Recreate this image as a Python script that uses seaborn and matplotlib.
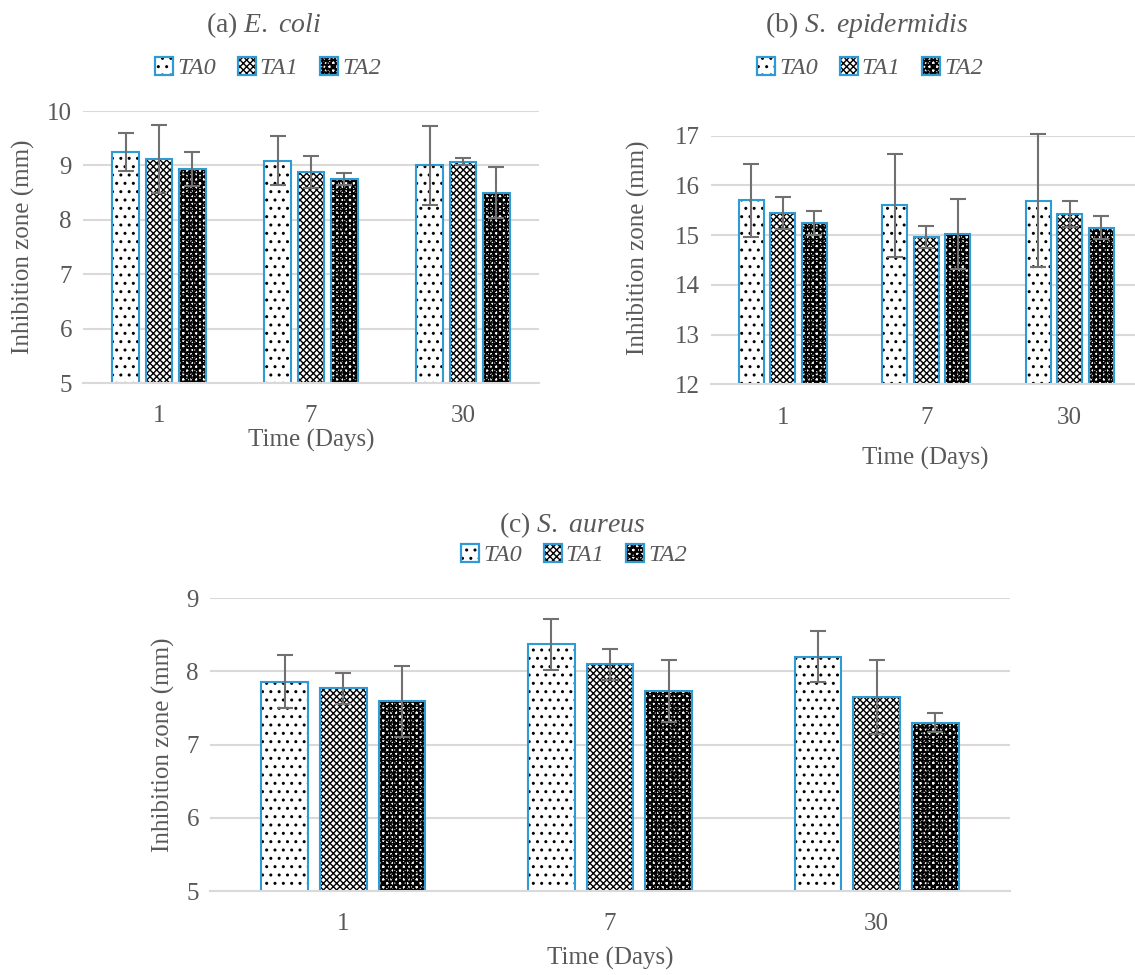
import matplotlib
matplotlib.use('Agg')
import matplotlib.pyplot as plt
from matplotlib.patches import Patch, Rectangle
from matplotlib.legend_handler import HandlerTuple
import seaborn as sns
import pandas as pd
import numpy as np

# ---- data ----
days = ['1', '7', '30']
groups = ['TA0', 'TA1', 'TA2']

ecoli_TA0 = [9.25, 9.09, 9.00]
ecoli_TA1 = [9.12, 8.88, 9.07]
ecoli_TA2 = [8.94, 8.75, 8.50]
ecoli_err_TA0 = [0.35, 0.45, 0.73]
ecoli_err_TA1 = [0.63, 0.30, 0.06]
ecoli_err_TA2 = [0.31, 0.11, 0.47]

sepi_TA0 = [15.70, 15.60, 15.69]
sepi_TA1 = [15.45, 14.97, 15.42]
sepi_TA2 = [15.24, 15.02, 15.15]
sepi_err_TA0 = [0.73, 1.04, 1.34]
sepi_err_TA1 = [0.32, 0.22, 0.26]
sepi_err_TA2 = [0.24, 0.70, 0.23]

saur_TA0 = [7.86, 8.37, 8.20]
saur_TA1 = [7.77, 8.10, 7.65]
saur_TA2 = [7.59, 7.73, 7.30]
saur_err_TA0 = [0.36, 0.35, 0.35]
saur_err_TA1 = [0.21, 0.21, 0.50]
saur_err_TA2 = [0.49, 0.42, 0.13]

# ---- style ----
sns.set_theme(style='white')
plt.rcParams['font.family'] = ['Liberation Serif', 'DejaVu Serif']
plt.rcParams['mathtext.fontset'] = 'custom'
plt.rcParams['mathtext.rm'] = 'Liberation Serif'
plt.rcParams['mathtext.it'] = 'Liberation Serif:italic'
plt.rcParams['hatch.linewidth'] = 1.0

TXT = '#595959'
GRID = '#D9D9D9'
EDGE = '#2E9BD4'
ERR = '#707070'
HATCHES = ['..', 'xxxxx', 'xxxxx++++']


def make_df(v0, v1, v2, e0, e1, e2):
    rows = []
    for g, vals, errs in zip(groups, [v0, v1, v2], [e0, e1, e2]):
        for d, v, e in zip(days, vals, errs):
            rows.append({'day': d, 'group': g, 'value': v, 'err': e})
    return pd.DataFrame(rows)


def draw_panel(ax, df, ylim):
    sns.barplot(data=df, x='day', y='value', hue='group', order=days,
                hue_order=groups, width=0.66, gap=0.2, errorbar=None,
                legend=False, ax=ax)
    for cont, g, h in zip(ax.containers, groups, HATCHES):
        sub = df[df['group'] == g].set_index('day').loc[days]
        for bar, err in zip(cont, sub['err']):
            bar.set_facecolor('white')
            bar.set_edgecolor('black')
            bar.set_linewidth(0)
            bar.set_hatch(h)
            bar.set_zorder(2)
            ax.add_patch(Rectangle((bar.get_x(), bar.get_y()), bar.get_width(),
                                   bar.get_height(), fill=False, edgecolor=EDGE,
                                   linewidth=1.5, zorder=2.5))
            xc = bar.get_x() + bar.get_width() / 2
            ax.errorbar(xc, bar.get_height(), yerr=err, fmt='none', ecolor=ERR,
                        elinewidth=1.5, capsize=5.5, capthick=1.5, zorder=3,
                        clip_on=False)
    ax.set_ylim(*ylim)
    ax.set_xlim(-0.5, 2.5)
    ax.set_axisbelow(True)
    ax.yaxis.grid(True, color=GRID, linewidth=1.5)
    for s in ['top', 'right', 'left']:
        ax.spines[s].set_visible(False)
    ax.spines['bottom'].set_color(GRID)
    ax.spines['bottom'].set_linewidth(1.5)
    ax.tick_params(axis='both', length=0, labelsize=18, colors=TXT)
    ax.tick_params(axis='y', pad=8)
    ax.tick_params(axis='x', pad=16)
    ax.set_xlabel('')
    ax.set_ylabel('')


def add_legend(ax, fig, xy):
    handles = []
    for h in HATCHES:
        handles.append((Patch(facecolor='white', edgecolor='black', linewidth=0, hatch=h),
                        Patch(fill=False, edgecolor=EDGE, linewidth=1.6)))
    ax.legend(handles, groups, handler_map={tuple: HandlerTuple(ndivide=1, pad=0)},
              loc='center', bbox_to_anchor=xy, bbox_transform=fig.transFigure,
              ncol=3, frameon=False, handlelength=0.75, handleheight=0.75,
              handletextpad=0.15, columnspacing=0.9,
              prop={'family': 'Liberation Serif', 'style': 'italic', 'size': 17.5},
              labelcolor=TXT)


W, H = 1135, 975
fig = plt.figure(figsize=(W / 100, H / 100), dpi=100)


def px_axes(x0, y0, x1, y1):
    return fig.add_axes([x0 / W, 1 - y1 / H, (x1 - x0) / W, (y1 - y0) / H])


ax_a = px_axes(83, 111, 539, 383)
ax_b = px_axes(711, 135.7, 1141.5, 384.3)
ax_c = px_axes(210, 598.3, 1010, 891)

draw_panel(ax_a, make_df(ecoli_TA0, ecoli_TA1, ecoli_TA2,
                         ecoli_err_TA0, ecoli_err_TA1, ecoli_err_TA2), (5, 10))
draw_panel(ax_b, make_df(sepi_TA0, sepi_TA1, sepi_TA2,
                         sepi_err_TA0, sepi_err_TA1, sepi_err_TA2), (12, 17))
draw_panel(ax_c, make_df(saur_TA0, saur_TA1, saur_TA2,
                         saur_err_TA0, saur_err_TA1, saur_err_TA2), (5, 9))

ax_a.set_yticks([5, 6, 7, 8, 9, 10])
ax_b.set_yticks([12, 13, 14, 15, 16, 17])
ax_c.set_yticks([5, 6, 7, 8, 9])


def ftext(x, y, s, **kw):
    fig.text(x / W, 1 - y / H, s, ha='center', va='center', color=TXT, **kw)


# titles
ftext(264, 25, r'(a) $\mathit{E.}$ $\mathit{coli}$', fontsize=20)
ftext(867, 25, r'(b) $\mathit{S.}$ $\mathit{epidermidis}$', fontsize=20)
ftext(572, 525, r'(c) $\mathit{S.}$ $\mathit{aureus}$', fontsize=20)

# legends
add_legend(ax_a, fig, (268 / W, 1 - 68 / H))
add_legend(ax_b, fig, (870 / W, 1 - 68 / H))
add_legend(ax_c, fig, (574 / W, 1 - 555 / H))

# axis labels
ftext(23, 247, 'Inhibition zone (mm)', fontsize=18, rotation=90)
ftext(638, 248, 'Inhibition zone (mm)', fontsize=18, rotation=90)
ftext(163, 745, 'Inhibition zone (mm)', fontsize=18, rotation=90)
ftext(311, 440, 'Time (Days)', fontsize=18)
ftext(925, 458, 'Time (Days)', fontsize=18)
ftext(610, 958, 'Time (Days)', fontsize=18)

fig.savefig('out.png', dpi=100)
